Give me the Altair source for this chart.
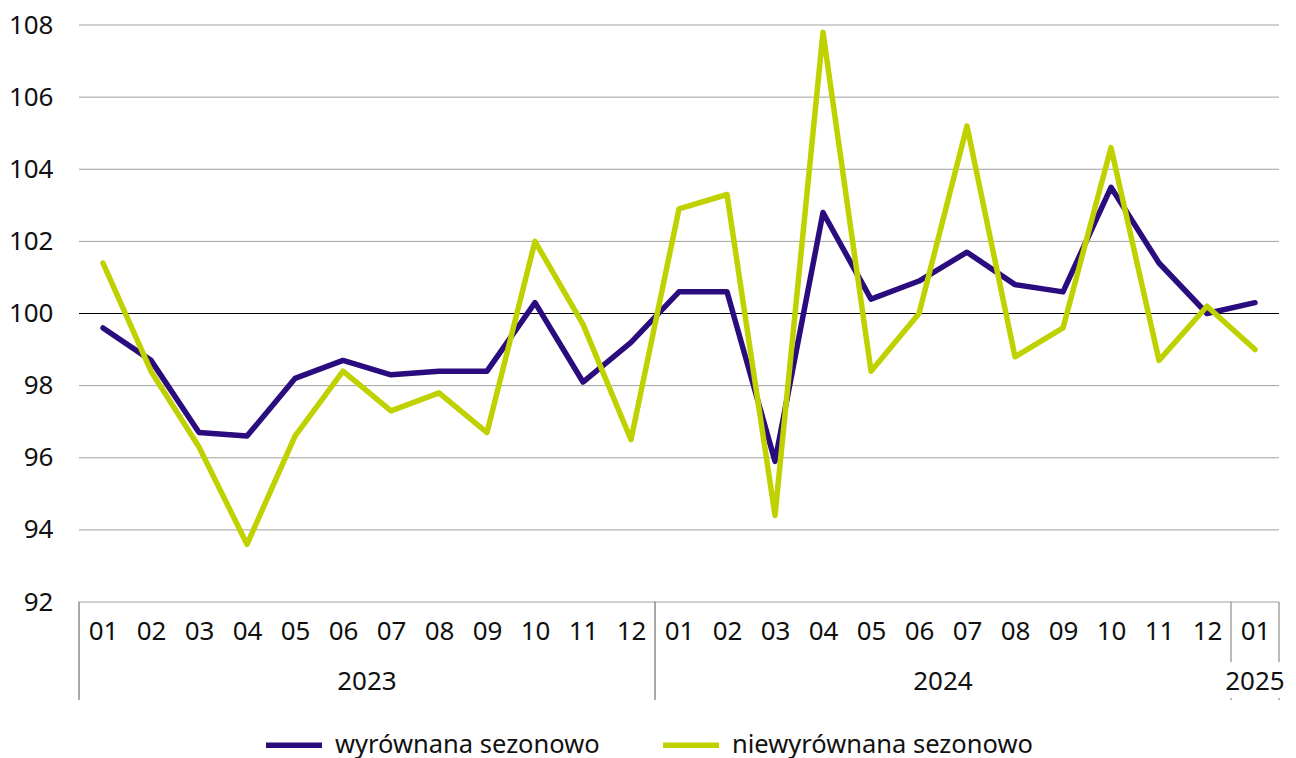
import altair as alt
import pandas as pd

months = ["01", "02", "03", "04", "05", "06", "07", "08", "09", "10", "11", "12",
          "01", "02", "03", "04", "05", "06", "07", "08", "09", "10", "11", "12",
          "01"]
years = [2023] * 12 + [2024] * 12 + [2025]

series_sa = "wyrównana sezonowo"
series_nsa = "niewyrównana sezonowo"

sa_values = [99.6, 98.7, 96.7, 96.6, 98.2, 98.7, 98.3, 98.4, 98.4, 100.3, 98.1, 99.2,
             100.6, 100.6, 95.9, 102.8, 100.4, 100.9, 101.7, 100.8, 100.6, 103.5, 101.4, 100.0,
             100.3]
nsa_values = [101.4, 98.4, 96.3, 93.6, 96.6, 98.4, 97.3, 97.8, 96.7, 102.0, 99.7, 96.5,
              102.9, 103.3, 94.4, 107.8, 98.4, 100.0, 105.2, 98.8, 99.6, 104.6, 98.7, 100.2,
              99.0]

y_ticks = [92, 94, 96, 98, 100, 102, 104, 106, 108]

FONT = "Noto Sans"
FS = 26
W, H = 1200, 577
colors = ["#2B0C7E", "#BFD200"]

n = len(months)
idx = list(range(n))
rows = []
for s, vals in [(series_sa, sa_values), (series_nsa, nsa_values)]:
    for i, v in zip(idx, vals):
        rows.append({"i": i, "value": v, "series": s})
df = pd.DataFrame(rows)

# year groups
groups = []
for y in sorted(set(years)):
    ii = [i for i, yy in zip(idx, years) if yy == y]
    groups.append({"year": str(y), "start": min(ii) - 0.5, "end": max(ii) + 0.5,
                   "center": (min(ii) + max(ii)) / 2})
years_df = pd.DataFrame(groups)
long_sep = pd.DataFrame({"x": [g["start"] for g in groups[:-1]]})
short_sep = pd.DataFrame({"x": [groups[-1]["start"], groups[-1]["end"]]})

x_scale = alt.Scale(domain=[-0.5, n - 0.5], nice=False, zero=False)
y_scale = alt.Scale(domain=[92, 108], nice=False, zero=False)

label_expr = "[" + ",".join(f"'{m}'" for m in months) + "][datum.value]"

grid_df = pd.DataFrame({"y": y_ticks, "main": [t == 100 for t in y_ticks]})
grid = alt.Chart(grid_df).mark_rule(strokeWidth=1).encode(
    y=alt.Y("y:Q", scale=y_scale, axis=alt.Axis(
        values=y_ticks, title=None, ticks=False, domain=False, grid=False,
        labelFontSize=FS, labelPadding=26, labelColor="#111", labelFont=FONT)),
    color=alt.condition("datum.main", alt.value("#000000"), alt.value("#a0a0a0")),
)

lines = alt.Chart(df).mark_line(strokeWidth=5.5, strokeJoin="round", strokeCap="round").encode(
    x=alt.X("i:Q", scale=x_scale, axis=alt.Axis(
        values=idx, labelExpr=label_expr, title=None, ticks=False, domain=False, grid=False,
        labelFontSize=FS, labelPadding=16, labelColor="#111", labelFont=FONT, labelFlush=False)),
    y=alt.Y("value:Q", scale=y_scale),
    color=alt.Color("series:N", scale=alt.Scale(domain=[series_sa, series_nsa], range=colors),
                    sort=[series_sa, series_nsa],
                    legend=alt.Legend(title=None, orient="none", direction="horizontal",
                                      legendX=184, legendY=689, symbolType="stroke",
                                      symbolSize=3136, symbolStrokeWidth=5.5,
                                      labelFontSize=25.5, labelFont=FONT, labelColor="#111",
                                      labelLimit=600, labelOffset=10, columnPadding=52)),
    detail="series:N",
)

long_rules = alt.Chart(long_sep).mark_rule(color="#555", strokeWidth=1).encode(
    x=alt.X("x:Q", scale=x_scale), y=alt.value(H), y2=alt.value(H + 98))
short_rules = alt.Chart(short_sep).mark_rule(color="#777", strokeWidth=1).encode(
    x=alt.X("x:Q", scale=x_scale), y=alt.value(H), y2=alt.value(H + 60))
dot_rules = alt.Chart(short_sep).mark_rule(color="#777", strokeWidth=1).encode(
    x=alt.X("x:Q", scale=x_scale), y=alt.value(H + 96), y2=alt.value(H + 98))

year_text = alt.Chart(years_df).mark_text(fontSize=FS, font=FONT, color="#111",
                                          baseline="middle", align="center").encode(
    x=alt.X("center:Q", scale=x_scale), y=alt.value(H + 80), text="year:N")

chart = alt.layer(grid, long_rules, short_rules, dot_rules, year_text, lines).properties(
    width=W, height=H,
    autosize=alt.AutoSizeParams(type="none"),
    padding={"left": 71, "top": 17, "right": 9, "bottom": 156},
).configure(font=FONT, view=alt.ViewConfig(stroke=None))

chart.save("out.html", embed_options={"renderer": "svg", "actions": False})
